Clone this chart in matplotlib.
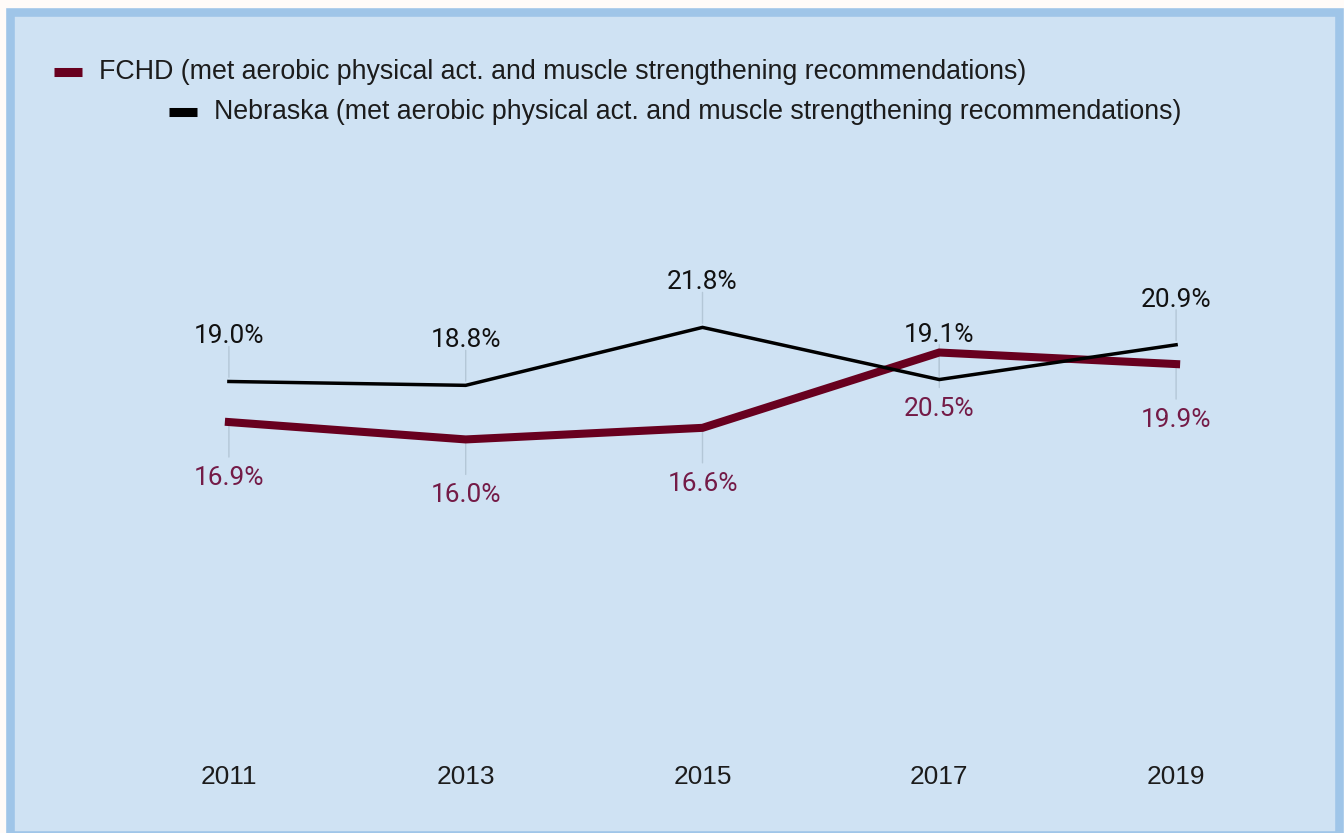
import matplotlib
matplotlib.use("Agg")
import matplotlib.pyplot as plt
from matplotlib.patches import Rectangle
from matplotlib.lines import Line2D

# survey years and share of adults meeting both activity recommendations (%)
years = ["2011", "2013", "2015", "2017", "2019"]
fchd = [16.9, 16.0, 16.6, 20.5, 19.9]
nebraska = [19.0, 18.8, 21.8, 19.1, 20.9]

fchd_name = "FCHD (met aerobic physical act. and muscle strengthening recommendations)"
ne_name = "Nebraska (met aerobic physical act. and muscle strengthening recommendations)"

MAROON = "#68001f"
MAROON_TXT = "#741b47"
BG = "#cfe2f3"
EDGE = "#9fc5e8"
LEADER = "#b4c7d7"

W, H = 1344, 833
fig = plt.figure(figsize=(W / 100, H / 100), dpi=100, facecolor="#fffbf8")


def fx(px):
    return px / W


def fy(py):
    return 1 - py / H


# panel with light border
fig.add_artist(Rectangle((fx(10), fy(835)), fx(1329), (835 - 11.5) / H,
                         transform=fig.transFigure, facecolor=BG,
                         edgecolor=EDGE, linewidth=6.2, zorder=0))

ax = fig.add_axes([fx(110.5), fy(748.5), fx(1294.5 - 110.5), (748.5 - 169) / H])
ax.set_facecolor("none")
for s in ax.spines.values():
    s.set_visible(False)

x = list(range(len(years)))
ax.plot(x, fchd, color=MAROON, lw=5.8, solid_joinstyle="miter", zorder=3)
ax.plot(x, nebraska, color="black", lw=2.5, solid_joinstyle="miter", zorder=4)

ax.set_xlim(-0.5, len(years) - 0.5)
ax.set_ylim(0, 30)
ax.set_yticks([])
ax.set_xticks(x)
ax.set_xticklabels(years, fontsize=18.9, family="Liberation Sans", color="#1c1c1c")
ax.tick_params(axis="x", length=0, pad=12)

label_font = dict(family="Roboto", fontsize=18.9, ha="center", va="center")

# value labels: Nebraska above its point, FCHD below, with thin leader lines
for xi, v in zip(x, nebraska):
    ax.annotate("", xy=(xi, v), xytext=(0, 35), textcoords="offset pixels",
                arrowprops=dict(arrowstyle="-", color=LEADER, lw=1.0,
                                shrinkA=0, shrinkB=3), zorder=1)
    ax.annotate(f"{v:.1f}%", xy=(xi, v), xytext=(0, 45),
                textcoords="offset pixels", color="#111111", **label_font)

for xi, v in zip(x, fchd):
    ax.annotate("", xy=(xi, v), xytext=(0, -35), textcoords="offset pixels",
                arrowprops=dict(arrowstyle="-", color=LEADER, lw=1.0,
                                shrinkA=0, shrinkB=3), zorder=1)
    ax.annotate(f"{v:.1f}%", xy=(xi, v), xytext=(0, -56),
                textcoords="offset pixels", color=MAROON_TXT, **label_font)

# legend entries
fig.add_artist(Line2D([fx(54), fx(82)], [fy(72), fy(72)], transform=fig.transFigure,
                      color=MAROON, lw=6.5, solid_capstyle="butt"))
fig.text(fx(99), fy(72), fchd_name, fontsize=19.3, family="Liberation Sans",
         color="#1c1c1c", va="center", ha="left")
fig.add_artist(Line2D([fx(169), fx(197)], [fy(112), fy(112)], transform=fig.transFigure,
                      color="black", lw=6.5, solid_capstyle="butt"))
fig.text(fx(214), fy(112), ne_name, fontsize=19.3, family="Liberation Sans",
         color="#1c1c1c", va="center", ha="left")

fig.savefig("out.png", dpi=100, facecolor=fig.get_facecolor())
